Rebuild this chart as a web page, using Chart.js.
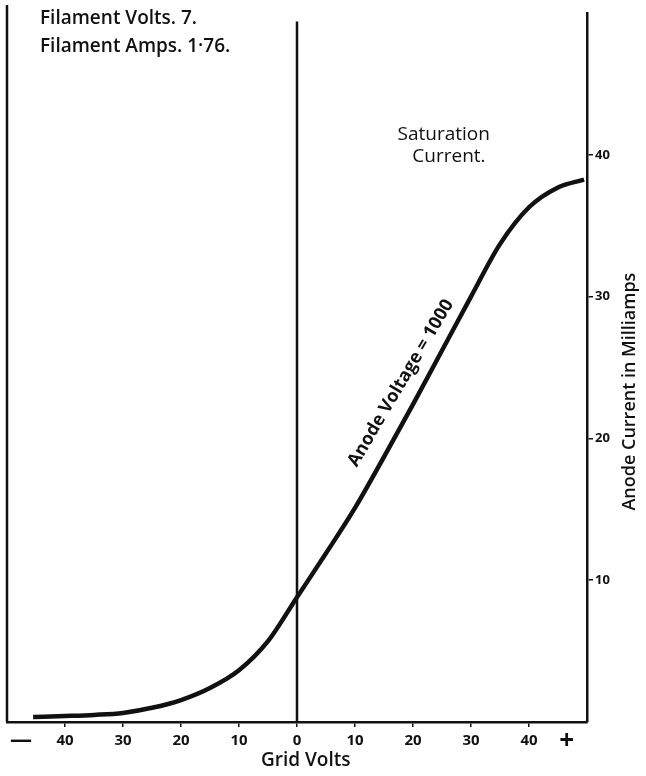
<!DOCTYPE html>
<html><head><meta charset="utf-8">
<script src="https://cdn.jsdelivr.net/npm/chart.js@4"></script>
<style>html,body{margin:0;padding:0;background:#fff}#wrap{width:646px;height:776px}</style>
</head><body><div id="wrap"><canvas id="c" width="646" height="776"></canvas></div>
<script>
const gridVolts = [-45.5,-40,-35,-30,-25,-20,-15,-10,-5,0,5,10,15,20,25,30,35,40,45,49.5];
const anodeCurrent = [0.35,0.42,0.5,0.64,1.0,1.55,2.4,3.65,5.7,8.8,11.9,15.1,18.7,22.4,26.2,30.0,33.7,36.3,37.7,38.25];
const zeroLineX = [0,0];
const zeroLineY = [0,49.4];
const xTicks = [-40,-30,-20,-10,0,10,20,30,40];
const xTickLabels = ['40','30','20','10','0','10','20','30','40'];
const yTicks = [10,20,30,40];
const yTickLabels = ['10','20','30','40'];
const signLabels = ['—','+'];
const signValues = [-47.6,46.5];
const xTitle = 'Grid Volts';
const yTitle = 'Anode Current in Milliamps';
const noteLines = ['Filament Volts. 7.','Filament Amps. 1·76.'];
const satLines = ['Saturation','Current.'];
const curveLabel = 'Anode Voltage = 1000';

const INK = '#111';

const annotate = {
  id: 'annotate',
  afterDraw(chart) {
    const {ctx, chartArea: a, scales: {x, y}} = chart;
    ctx.save();
    ctx.fillStyle = INK;
    ctx.strokeStyle = INK;
    // left frame line
    ctx.lineWidth = 2.5;
    ctx.beginPath();
    ctx.moveTo(a.left, a.top - 8);
    ctx.lineTo(a.left, a.bottom);
    ctx.stroke();
    // sign labels on x axis
    ctx.textAlign = 'center';
    ctx.textBaseline = 'middle';
    ctx.font = 'bold 22px "Open Sans"';
    ctx.fillText(signLabels[0], x.getPixelForValue(signValues[0]), a.bottom + 19);
    ctx.font = 'bold 26px "Open Sans"';
    ctx.fillText(signLabels[1], x.getPixelForValue(signValues[1]), a.bottom + 20);
    // x title
    ctx.font = '600 19px "Open Sans"';
    ctx.fillText(xTitle, x.getPixelForValue(1.5), a.bottom + 39);
    // y title
    ctx.save();
    ctx.translate(a.right + 43, y.getPixelForValue(23.3));
    ctx.rotate(-Math.PI / 2);
    ctx.font = '600 18px "Open Sans"';
    ctx.fillText(yTitle, 0, 0);
    ctx.restore();
    // filament notes
    ctx.textAlign = 'left';
    ctx.font = '600 19px "Open Sans"';
    ctx.fillText(noteLines[0], a.left + 33, a.top + 6);
    ctx.fillText(noteLines[1], a.left + 33, a.top + 34);
    // saturation
    ctx.textAlign = 'center';
    ctx.font = '19px "Open Sans"';
    ctx.fillText(satLines[0], x.getPixelForValue(25.3), y.getPixelForValue(41.45));
    ctx.fillText(satLines[1], x.getPixelForValue(26.2), y.getPixelForValue(39.9));
    // curve label
    ctx.save();
    ctx.translate(x.getPixelForValue(17.9), y.getPixelForValue(23.9));
    ctx.rotate(-59.5 * Math.PI / 180);
    ctx.font = 'bold 18px "Open Sans"';
    ctx.fillText(curveLabel, 0, 0);
    ctx.restore();
    ctx.restore();
  }
};

new Chart(document.getElementById('c'), {
  type: 'scatter',
  data: {
    datasets: [
      {
        data: gridVolts.map((v, i) => ({x: v, y: anodeCurrent[i]})),
        showLine: true,
        borderColor: INK,
        borderWidth: 4.5,
        pointRadius: 0,
        cubicInterpolationMode: 'monotone',
        fill: false
      },
      {
        data: zeroLineX.map((v, i) => ({x: v, y: zeroLineY[i]})),
        showLine: true,
        borderColor: INK,
        borderWidth: 2.5,
        pointRadius: 0
      }
    ]
  },
  options: {
    responsive: false,
    devicePixelRatio: 1,
    animation: false,
    layout: {padding: {left: 7, top: 13, right: 0, bottom: 0}},
    plugins: {legend: {display: false}, tooltip: {enabled: false}},
    scales: {
      x: {
        type: 'linear', position: 'bottom', min: -50, max: 50,
        afterBuildTicks: s => { s.ticks = xTicks.map(v => ({value: v})); },
        afterFit: s => { s.height = 54; },
        border: {color: INK, width: 2.5},
        grid: {drawOnChartArea: false, drawTicks: true, tickLength: 5, color: INK, lineWidth: 1.5},
        ticks: {
          autoSkip: false, maxRotation: 0, padding: 5, color: INK,
          font: {family: '"Open Sans"', weight: 'bold', size: 15},
          callback: (v, i) => xTickLabels[i]
        },
        title: {display: false}
      },
      y: {
        type: 'linear', position: 'right', min: 0, max: 50,
        afterBuildTicks: s => { s.ticks = yTicks.map(v => ({value: v})); },
        afterFit: s => { s.width = 59; },
        border: {color: INK, width: 2.5},
        grid: {drawOnChartArea: false, drawTicks: true, tickLength: 6, color: INK, lineWidth: 1.5},
        ticks: {
          padding: 2, color: INK,
          font: {family: '"Open Sans"', weight: 'bold', size: 13},
          callback: (v, i) => yTickLabels[i]
        },
        title: {display: false}
      }
    }
  },
  plugins: [annotate]
});
</script></body></html>
